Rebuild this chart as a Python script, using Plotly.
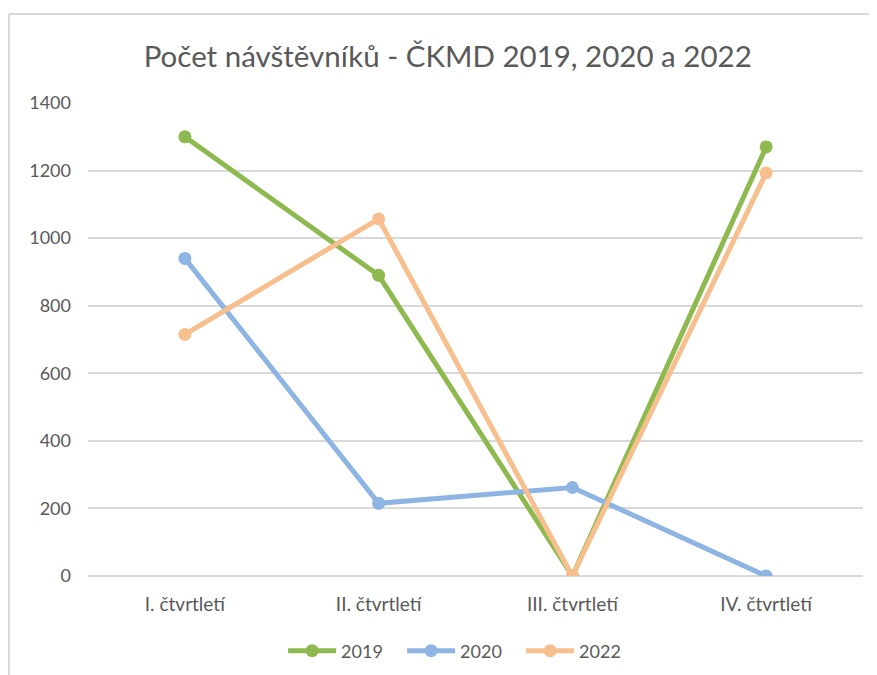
import plotly.graph_objects as go

quarters = ['I. čtvrtletí', 'II. čtvrtletí', 'III. čtvrtletí', 'IV. čtvrtletí']
visitors_2019 = [1300, 890, 0, 1270]
visitors_2020 = [940, 215, 262, 0]
visitors_2022 = [715, 1057, 0, 1193]

colors = {'2019': '#8DB94F', '2020': '#8DB4E3', '2022': '#F7BF8E'}

fig = go.Figure()
for name, vals in [('2019', visitors_2019), ('2020', visitors_2020), ('2022', visitors_2022)]:
    fig.add_trace(go.Scatter(
        x=quarters, y=vals, name=name, mode='lines+markers',
        line=dict(color=colors[name], width=5),
        marker=dict(color=colors[name], size=13),
    ))

# frame around chart area (top and left edges visible in the source)
fig.add_shape(type='line', xref='paper', yref='paper',
              x0=-0.102, x1=1.03, y0=1.188, y1=1.188,
              line=dict(color='#D9D9D9', width=2))
fig.add_shape(type='line', xref='paper', yref='paper',
              x0=-0.102, x1=-0.102, y0=1.188, y1=-0.22,
              line=dict(color='#D9D9D9', width=2))

# page body has an 8px margin, so the figure is a bit smaller than the window
fig.update_layout(
    width=869, height=667,
    margin=dict(l=80, r=14, t=95, b=99, autoexpand=False),
    paper_bgcolor='white', plot_bgcolor='white',
    font=dict(family='Lato, sans-serif', color='#595959', size=18),
    title=dict(text='Počet návštěvníků - ČKMD 2019, 2020 a 2022',
               x=0.506, xanchor='center', y=0.9265, yanchor='middle',
               font=dict(size=29.5, color='#595959')),
    showlegend=True,
    legend=dict(orientation='h', xref='container', yref='container',
                x=0.522, xanchor='center', y=0.036, yanchor='middle',
                font=dict(size=18), traceorder='normal',
                itemwidth=48, entrywidth=56, entrywidthmode='pixels'),
    xaxis=dict(showgrid=False, showline=False, ticks='', zeroline=False, automargin=False,
               range=[-0.5, 3.5], tickfont=dict(size=19), ticklabelstandoff=15),
    yaxis=dict(range=[0, 1400], dtick=200, showgrid=True, gridcolor='#D9D9D9', gridwidth=1.5,
               zeroline=True, zerolinecolor='#D9D9D9', zerolinewidth=1.5, automargin=False,
               showline=False, ticks='', ticklabelstandoff=16, tickfont=dict(size=18)),
)

fig.write_html("out.html")
